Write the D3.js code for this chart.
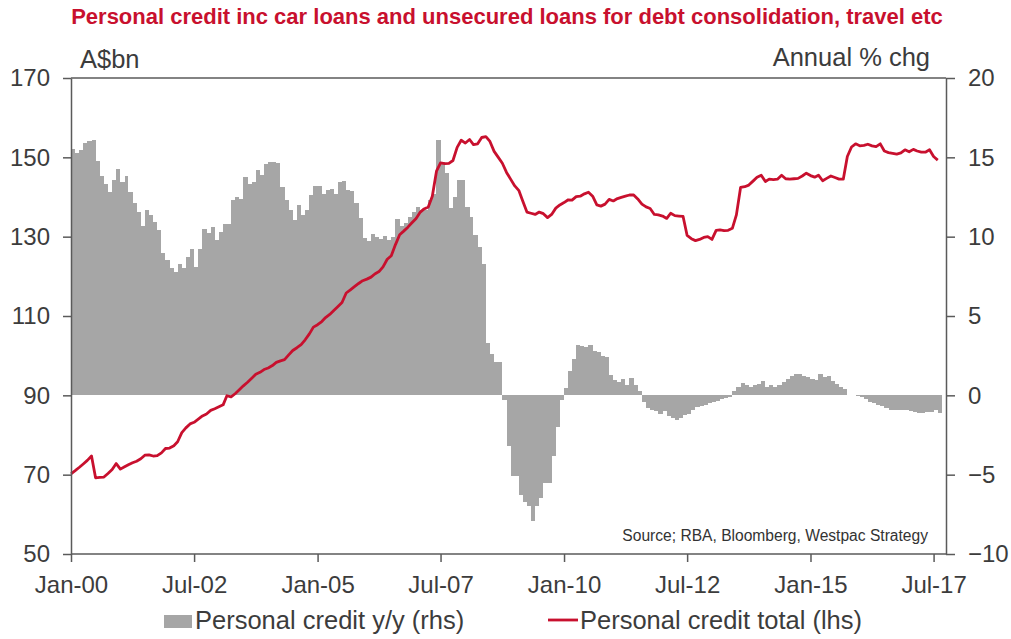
<!DOCTYPE html>
<html>
<head>
<meta charset="utf-8">
<script src="https://cdn.jsdelivr.net/npm/d3@7"></script>
<style>
  body { margin: 0; background: #fff; }
  svg { font-family: "Liberation Sans", Arial, sans-serif; }
  .axis path, .axis line { stroke: #5a5a5a; stroke-width: 1.5; }
  .axis text { fill: #3c3c3c; font-size: 24px; }
</style>
</head>
<body>
<div id="canvas"></div>
<script>
// monthly, Jan-00 .. Aug-17
var startMonth = new Date(2000, 0, 1),
    endMonth = new Date(2017, 8, 1);

// personal credit total, A$bn (lhs) - one row per year
var creditTotal = [
  70.2, 71.0, 71.8, 72.7, 73.6, 74.7, 69.2, 69.3, 69.4, 70.3, 71.3, 72.8,
  71.4, 72.0, 72.5, 73.0, 73.4, 74.0, 74.9, 75.0, 74.7, 74.8, 75.5, 76.6,
  76.7, 77.3, 78.3, 80.6, 81.8, 82.8, 83.2, 84.0, 84.8, 85.3, 86.2, 86.6,
  87.1, 87.6, 89.9, 89.6, 90.4, 91.4, 92.4, 93.3, 94.3, 95.3, 95.8, 96.5,
  96.9, 97.5, 98.3, 98.7, 99.0, 100.2, 101.3, 102.0, 102.8, 104.0, 105.5, 107.2,
  107.8, 108.6, 109.6, 110.4, 111.4, 112.4, 113.4, 115.8, 116.6, 117.4, 118.2, 118.9,
  119.3, 119.8, 120.6, 121.2, 122.4, 124.3, 125.2, 128.0, 130.5, 131.4, 132.4, 133.5,
  134.6, 136.2, 137.0, 137.5, 140.2, 146.5, 148.6, 148.4, 148.5, 149.2, 152.5, 154.3,
  153.6, 154.5, 153.2, 153.4, 155.0, 155.2, 154.0, 151.5, 150.0, 148.5, 146.2, 144.5,
  142.8, 141.6, 139.0, 136.2, 135.9, 135.6, 136.2, 135.8, 134.8, 135.6, 137.2, 138.0,
  138.6, 139.3, 139.2, 140.1, 140.2, 140.8, 141.2, 140.2, 138.0, 137.7, 138.2, 139.4,
  139.0, 139.6, 139.9, 140.2, 140.5, 140.5, 139.5, 138.2, 137.5, 137.1, 135.6, 135.5,
  135.2, 134.6, 135.9, 135.3, 135.2, 135.1, 130.3, 129.5, 129.0, 129.3, 129.8, 130.0,
  129.3, 131.6, 131.7, 131.5, 131.6, 132.1, 135.5, 142.4, 142.6, 143.0, 144.0, 145.0,
  145.5, 143.9, 144.5, 144.4, 144.5, 145.5, 144.6, 144.5, 144.6, 144.7, 145.3, 146.0,
  145.4, 145.0, 145.5, 144.1, 144.7, 145.3, 144.9, 144.5, 144.5, 150.2, 152.6, 153.4,
  152.9, 153.0, 153.3, 152.9, 152.7, 153.4, 151.6, 151.2, 151.0, 150.8, 151.1, 151.9,
  151.4, 152.0, 151.6, 151.3, 151.3, 151.9, 150.2, 149.3
];

// personal credit y/y, annual % chg (rhs)
var creditYoY = [
  15.5, 15.25, 15.45, 15.9, 16.0, 16.1, 14.8, 13.8, 13.35, 12.8, 13.55, 14.25,
  13.45, 13.8, 12.8, 12.1, 11.55, 10.65, 11.7, 11.35, 10.95, 10.4, 9.0, 8.5,
  8.0, 7.75, 8.3, 8.0, 8.75, 9.25, 8.1, 9.25, 10.5, 10.2, 10.6, 9.8,
  10.3, 10.8, 10.8, 12.3, 12.5, 12.4, 13.75, 13.3, 13.45, 14.2, 13.9, 14.6,
  14.7, 14.7, 14.65, 13.15, 12.3, 11.7, 11.05, 12.0, 11.35, 11.7, 12.6, 13.2,
  13.2, 12.7, 12.95, 13.0, 12.7, 13.45, 13.5, 12.95, 12.85, 12.1, 11.15, 9.9,
  9.7, 10.15, 10.0, 9.85, 10.05, 9.8, 10.0, 11.1, 10.65, 10.85, 11.25, 11.55,
  11.9, 11.7, 11.7, 12.3, 12.7, 16.1, 14.7, 14.0, 11.8, 12.5, 13.6, 13.6,
  11.9, 11.25, 10.1, 9.35, 8.3, 3.3, 2.6, 2.1, 2.1, -0.3, -3.2, -5.1,
  -5.1, -6.3, -6.7, -7.0, -7.9, -7.0, -6.5, -5.5, -5.5, -3.8, -2.0, -0.3,
  0.45, 1.55, 2.3, 3.2, 3.1, 3.05, 3.2, 2.8, 2.75, 2.5, 2.4, 1.3,
  0.95, 0.85, 1.0, 0.65, 1.1, 0.65, 0.25, -0.4, -0.8, -0.9, -1.0, -1.15,
  -1.0, -1.3, -1.45, -1.55, -1.4, -1.25, -1.15, -0.9, -0.75, -0.65, -0.6, -0.5,
  -0.4, -0.35, -0.25, -0.15, -0.1, 0.25, 0.55, 0.75, 0.65, 0.55, 0.65, 0.7,
  0.9, 0.55, 0.65, 0.5, 0.65, 0.85, 1.05, 1.2, 1.35, 1.35, 1.2, 1.15,
  1.0, 0.95, 1.35, 1.15, 1.2, 0.9, 0.7, 0.55, 0.4, 0.05, 0, -0.05,
  -0.1, -0.2, -0.45, -0.5, -0.6, -0.7, -0.8, -0.9, -0.95, -0.9, -0.95, -0.95,
  -1.0, -1.05, -1.1, -1.1, -1.05, -1.05, -0.95, -1.1
];

var xTickLabels = ["Jan-00", "Jul-02", "Jan-05", "Jul-07", "Jan-10", "Jul-12", "Jan-15", "Jul-17"];
var leftTicks = [50, 70, 90, 110, 130, 150, 170];
var rightTicks = [-10, -5, 0, 5, 10, 15, 20];

var titleText = "Personal credit inc car loans and unsecured loans for debt consolidation, travel etc";
var sourceText = "Source; RBA, Bloomberg, Westpac Strategy";
var legendLabels = ["Personal credit y/y (rhs)", "Personal credit total (lhs)"];

var width = 1011,
    height = 639,
    margin = {top: 78, right: 65, bottom: 85, left: 71};
var innerW = width - margin.left - margin.right,
    innerH = height - margin.top - margin.bottom;

var red = "#c8102e",
    grey = "#a6a6a6";

var months = d3.timeMonth.range(startMonth, d3.timeMonth.offset(endMonth, 1));
var data = months.map(function(d, i) {
  return {date: d, total: creditTotal[i], yoy: creditYoY[i]};
});

var x = d3.scaleTime()
  .domain([startMonth, new Date(2017, 9, 1)])
  .range([0, innerW]);
var yL = d3.scaleLinear().domain([50, 170]).range([innerH, 0]);
var yR = d3.scaleLinear().domain([-10, 20]).range([innerH, 0]);

var svg = d3.select("div#canvas").append("svg")
  .attr("width", width)
  .attr("height", height);

svg.append("text")
  .attr("x", 507)
  .attr("y", 24)
  .attr("text-anchor", "middle")
  .attr("fill", red)
  .attr("font-weight", "bold")
  .attr("font-size", "22px")
  .text(titleText);

var g = svg.append("g")
  .attr("transform", "translate(" + margin.left + "," + margin.top + ")");

// bars (rhs) - snapped to whole pixels so neighbours touch
g.append("g")
  .attr("shape-rendering", "crispEdges")
  .selectAll("rect")
  .data(data)
  .enter().append("rect")
  .attr("x", function(d) { return Math.round(x(d.date)); })
  .attr("width", function(d) {
    return Math.round(x(d3.timeMonth.offset(d.date, 1))) - Math.round(x(d.date));
  })
  .attr("y", function(d) { return yR(Math.max(0, d.yoy)); })
  .attr("height", function(d) { return Math.abs(yR(d.yoy) - yR(0)); })
  .attr("fill", grey);

// line (lhs)
var line = d3.line()
  .x(function(d) { return x(d.date); })
  .y(function(d) { return yL(d.total); });

g.append("path")
  .datum(data)
  .attr("d", line)
  .attr("fill", "none")
  .attr("stroke", red)
  .attr("stroke-width", 2.8)
  .attr("stroke-linejoin", "round");

// frame top
g.append("line")
  .attr("x1", 0).attr("x2", innerW)
  .attr("y1", 0).attr("y2", 0)
  .attr("stroke", "#5a5a5a").attr("stroke-width", 1.5);

var parseTick = d3.timeParse("%b-%y");

var xAxis = g.append("g")
  .attr("class", "axis")
  .attr("transform", "translate(0," + innerH + ")")
  .call(d3.axisBottom(x)
    .tickValues(xTickLabels.map(parseTick))
    .tickFormat(d3.timeFormat("%b-%y"))
    .tickSize(8)
    .tickSizeOuter(0));
xAxis.selectAll("text").attr("dy", 0).attr("y", 39);
xAxis.select(".domain").attr("d", "M0,0H" + innerW);

g.append("g")
  .attr("class", "axis")
  .call(d3.axisLeft(yL).tickValues(leftTicks).tickSize(8).tickPadding(13).tickSizeOuter(0));

g.append("g")
  .attr("class", "axis")
  .attr("transform", "translate(" + innerW + ",0)")
  .call(d3.axisRight(yR).tickValues(rightTicks).tickSize(9).tickPadding(13).tickSizeOuter(0));

// axis titles
svg.append("text")
  .attr("x", 80).attr("y", 68)
  .attr("fill", "#3c3c3c").attr("font-size", "25.5px")
  .text("A$bn");
svg.append("text")
  .attr("x", 930).attr("y", 66)
  .attr("text-anchor", "end")
  .attr("fill", "#3c3c3c").attr("font-size", "25.5px")
  .text("Annual % chg");

svg.append("text")
  .attr("x", 928).attr("y", 541)
  .attr("text-anchor", "end")
  .attr("fill", "#333").attr("font-size", "15.6px")
  .text(sourceText);

// legend
var legend = svg.append("g");
legend.append("rect")
  .attr("x", 164).attr("y", 615).attr("width", 28).attr("height", 13)
  .attr("fill", grey);
legend.append("text")
  .attr("x", 195).attr("y", 629)
  .attr("fill", "#3c3c3c").attr("font-size", "25.5px")
  .text(legendLabels[0]);
legend.append("line")
  .attr("x1", 548).attr("x2", 578).attr("y1", 620).attr("y2", 620)
  .attr("stroke", red).attr("stroke-width", 2.8);
legend.append("text")
  .attr("x", 580).attr("y", 629)
  .attr("fill", "#3c3c3c").attr("font-size", "25.5px")
  .text(legendLabels[1]);
</script>
</body>
</html>
